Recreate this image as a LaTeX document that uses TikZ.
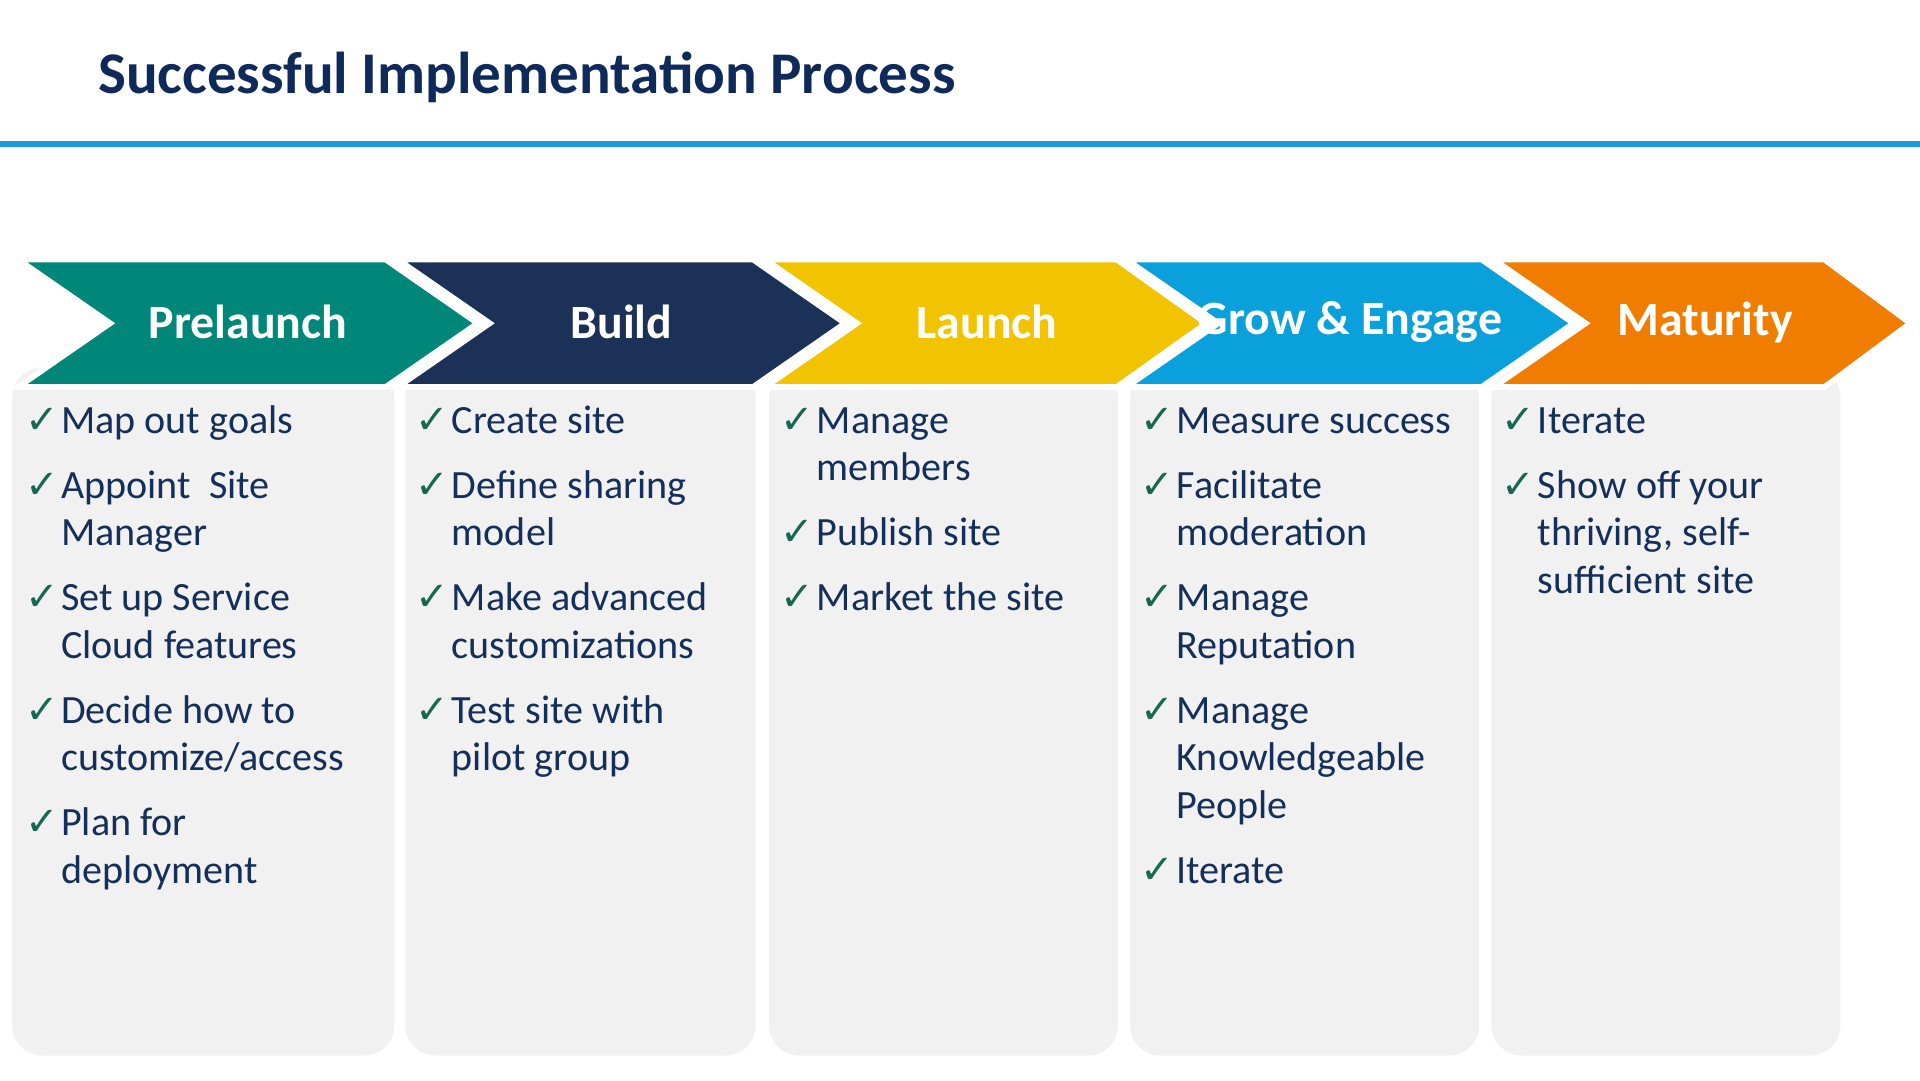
\documentclass[tikz,border=0pt]{standalone}
\usepackage{fontspec}
\setmainfont{Carlito}
\newfontfamily\symfont{DejaVu Sans}
\definecolor{TitleNavy}{HTML}{0E2A5A}
\definecolor{TextNavy}{HTML}{14305A}
\definecolor{RuleBlue}{HTML}{1A9AD8}
\definecolor{PhaseTeal}{HTML}{00877A}
\definecolor{PhaseNavy}{HTML}{1B3157}
\definecolor{PhaseYellow}{HTML}{F2C300}
\definecolor{PhaseBlue}{HTML}{0AA0DC}
\definecolor{PhaseOrange}{HTML}{F07C00}
\definecolor{CheckGreen}{HTML}{16694F}
\definecolor{PanelGray}{HTML}{F1F1F1}
\usetikzlibrary{positioning}

\newcommand{\ck}{\makebox[0.36cm][l]{\symfont\color{CheckGreen}\bfseries ✓}}

\begin{document}
\begin{tikzpicture}[
  x=0.012245cm, y=-0.012245cm,
  % Pfeilform der Phasen
  chevron/.style={fill=#1, draw=white, line width=1.6pt, line join=miter},
  % Phasenname
  phaselbl/.style={font=\fontsize{13.6}{16}\selectfont\bfseries, text=white},
  % Hintergrundpanel
  panel/.style={fill=PanelGray, rounded corners=0.3cm},
  % Checkliste
  checklist/.style={anchor=north west, inner sep=0pt, text=TextNavy,
    font=\fontsize{11.4}{13.5}\selectfont}
]
\useasboundingbox (0,0) rectangle (1568,882);

% --- Titel ---
\node[anchor=base west, font=\fontsize{16.8}{20}\selectfont\bfseries, text=TitleNavy]
      (title) at (70,76) {Successful Implementation Process};
\fill[RuleBlue] (0,115) rectangle (1568,120);

% --- Panels ---
\foreach \l/\r in {10/322, 331/617, 628/913, 923/1208, 1218/1503} {
  \fill[panel] (\l,300) rectangle (\r,862);
}

% --- Phasen ---
\foreach \l/\b/\t/\col/\txt/\n in {
    15/315/390/PhaseTeal/Prelaunch/pre,
    325/615/690/PhaseNavy/Build/bld,
    625/912/985/PhaseYellow/Launch/lch,
    920/1210/1285/PhaseBlue/{Grow \& Engage}/grw,
    1220/1490/1560/PhaseOrange/Maturity/mat} {
  \draw[chevron=\col] (\l,212) -- (\b,212) -- (\t,264) -- (\b,316)
        -- (\l,316) -- (\l+75,264) -- cycle;
  \node[phaselbl] (\n) at ({(\l+75+\b)/2},263) {\txt};
}

% --- Checklisten ---
\def\gap{\\[5pt]}
\node[checklist] (prelist) at (20,326) {%
  \begin{tabular}{@{}l@{}l@{}}
  \ck & Map out goals\gap
  \ck & Appoint\ \ Site\\ & Manager\gap
  \ck & Set up Service\\ & Cloud features\gap
  \ck & Decide how to\\ & customize/access\gap
  \ck & Plan for\\ & deployment
  \end{tabular}};
\node[checklist] (bldlist) at (339,326) {%
  \begin{tabular}{@{}l@{}l@{}}
  \ck & Create site\gap
  \ck & Define sharing\\ & model\gap
  \ck & Make advanced\\ & customizations\gap
  \ck & Test site with\\ & pilot group
  \end{tabular}};
\node[checklist] (lchlist) at (637,326) {%
  \begin{tabular}{@{}l@{}l@{}}
  \ck & Manage\\ & members\gap
  \ck & Publish site\gap
  \ck & Market the site
  \end{tabular}};
\node[checklist] (grwlist) at (931,326) {%
  \begin{tabular}{@{}l@{}l@{}}
  \ck & Measure success\gap
  \ck & Facilitate\\ & moderation\gap
  \ck & Manage\\ & Reputation\gap
  \ck & Manage\\ & Knowledgeable\\ & People\gap
  \ck & Iterate
  \end{tabular}};
\node[checklist] (matlist) at (1226,326) {%
  \begin{tabular}{@{}l@{}l@{}}
  \ck & Iterate\gap
  \ck & Show off your\\ & thriving, self-\\ & sufficient site
  \end{tabular}};
\end{tikzpicture}
\end{document}
